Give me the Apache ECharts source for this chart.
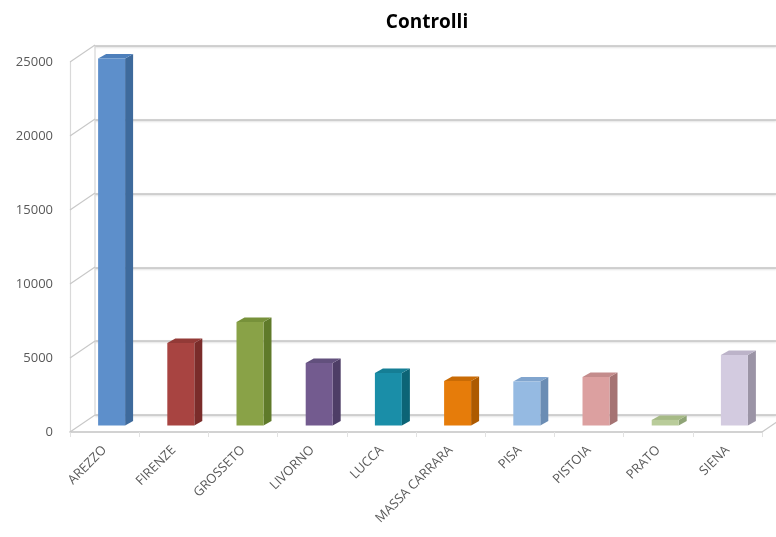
<!DOCTYPE html>
<html>
<head>
<meta charset="utf-8">
<script src="https://cdn.jsdelivr.net/npm/echarts@6/dist/echarts.min.js"></script>
<style>
  html, body { margin: 0; padding: 0; background: #ffffff; }
  #chart { width: 776px; height: 537px; }
</style>
</head>
<body>
<div id="chart"></div>
<script>
// Controlli per provincia
const provinces = ['AREZZO', 'FIRENZE', 'GROSSETO', 'LIVORNO', 'LUCCA',
  'MASSA CARRARA', 'PISA', 'PISTOIA', 'PRATO', 'SIENA'];
const controlli = [24800, 5580, 7000, 4230, 3550, 3010, 2980, 3280, 380, 4770];
const yTicks = [0, 5000, 10000, 15000, 20000, 25000];

// [front, side, top] face colours for each bar
const faceColors = [
  ['#5d8fcb', '#3e6a9c', '#4d7fbb'],
  ['#a84441', '#7a2c2a', '#933a37'],
  ['#89a247', '#5f7a2a', '#77913a'],
  ['#735b8f', '#4e3d66', '#62507d'],
  ['#1a8ea8', '#0c6476', '#157e95'],
  ['#e67c0a', '#ad5a00', '#c96b05'],
  ['#95bae2', '#6b8db4', '#81a5ce'],
  ['#dca0a0', '#a57373', '#c48c8c'],
  ['#b9cc9a', '#8fa476', '#a6ba86'],
  ['#d3cbe0', '#9b94a6', '#bcb3c9']
];

const WALL = [25, -17];       // offset from front plane to back wall
const BAR_SHIFT = [7, -6.5];  // bars sit a little behind the front edge
const BAR_DEPTH = [8, -4.5];  // visible thickness of each bar
const FONT = "'Open Sans', 'DejaVu Sans', sans-serif";
const gridLine = { color: '#c4c4c4', width: 1.6, shadowColor: 'rgba(0,0,0,0.15)', shadowBlur: 2, shadowOffsetY: 1 };

const chart = echarts.init(document.getElementById('chart'), null, { renderer: 'canvas' });

// side wall diagonals and wall edges
function renderWalls(params, api) {
  const cs = params.coordSys;
  const v = api.value(1);
  const y = api.coord([0, v])[1];
  const x = cs.x;
  const children = [{
    type: 'line',
    shape: { x1: x, y1: y, x2: x + WALL[0], y2: y + WALL[1] },
    style: { stroke: '#c8c8c8', lineWidth: 1.2 }
  }];
  if (params.dataIndex === 0) {
    const yTop = api.coord([0, yTicks[yTicks.length - 1]])[1];
    children.push({
      type: 'line',
      shape: { x1: x + WALL[0], y1: y + WALL[1], x2: x + WALL[0], y2: yTop + WALL[1] },
      style: { stroke: '#d6d6d6', lineWidth: 1.2 }
    });
    const xr = cs.x + cs.width;
    children.push({
      type: 'line',
      shape: { x1: xr, y1: y, x2: xr + WALL[0], y2: y + WALL[1] },
      style: { stroke: '#c8c8c8', lineWidth: 1.2 }
    });
  }
  return { type: 'group', children };
}

// 3-D looking bar: front, side and top faces
function renderBar(params, api) {
  const i = api.value(0);
  const v = api.value(1);
  const base = api.coord([i, 0]);
  const top = api.coord([i, v]);
  const w = api.size([1, 0])[0] * 0.39;
  const x0 = base[0] - w / 2 + BAR_SHIFT[0];
  const x1 = x0 + w;
  const yb = base[1] + BAR_SHIFT[1];
  const yt = top[1] + BAR_SHIFT[1];
  const dx = BAR_DEPTH[0], dy = BAR_DEPTH[1];
  const c = faceColors[i];
  return {
    type: 'group',
    children: [
      { type: 'polygon', shape: { points: [[x1, yb], [x1 + dx, yb + dy], [x1 + dx, yt + dy], [x1, yt]] },
        style: { fill: c[1] } },
      { type: 'polygon', shape: { points: [[x0, yt], [x1, yt], [x1 + dx, yt + dy], [x0 + dx, yt + dy]] },
        style: { fill: c[2] } },
      { type: 'rect', shape: { x: x0, y: yt, width: w, height: yb - yt },
        style: { fill: c[0] } }
    ]
  };
}

chart.setOption({
  animation: false,
  backgroundColor: '#ffffff',
  title: {
    text: 'Controlli',
    left: 422, top: 8, textAlign: 'center',
    textStyle: { fontFamily: FONT, fontSize: 19, fontWeight: 'bold', color: '#000000' }
  },
  grid: [
    { left: 70, right: 14, top: 62, bottom: 105 },
    { left: 95, right: 0, top: 46, bottom: 122 }
  ],
  xAxis: [
    {
      type: 'category', gridIndex: 0, data: provinces,
      axisLine: { lineStyle: { color: '#c4c4c4', width: 1.6 } },
      axisTick: { show: true, length: 5, lineStyle: { color: '#e2e2e2' } },
      axisLabel: { interval: 0, rotate: 45, margin: 16, fontFamily: FONT, fontSize: 13, color: '#595959' }
    },
    { type: 'value', gridIndex: 1, show: false, min: 0, max: 1 }
  ],
  yAxis: [
    {
      type: 'value', gridIndex: 0, min: 0, max: 25000, interval: 5000,
      axisLine: { show: true, lineStyle: { color: '#d9d9d9', width: 1.2 } },
      axisTick: { show: false },
      splitLine: { show: false },
      axisLabel: { margin: 17, fontFamily: FONT, fontSize: 13, color: '#595959',
        formatter: v => String(v) }
    },
    {
      type: 'value', gridIndex: 1, min: 0, max: 25000, interval: 5000,
      axisLine: { show: false }, axisTick: { show: false }, axisLabel: { show: false },
      splitLine: { show: true, lineStyle: gridLine }
    }
  ],
  series: [
    {
      type: 'custom', xAxisIndex: 0, yAxisIndex: 0, z: 1,
      renderItem: renderWalls,
      data: yTicks.map(v => [0, v])
    },
    {
      type: 'custom', xAxisIndex: 0, yAxisIndex: 0, z: 5,
      renderItem: renderBar,
      encode: { x: 0, y: 1 },
      data: controlli.map((v, i) => [i, v])
    }
  ]
});
</script>
</body>
</html>
